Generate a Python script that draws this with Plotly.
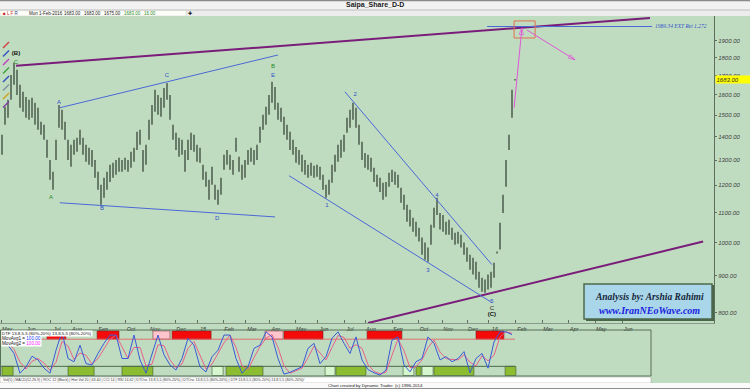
import math
import plotly.graph_objects as go

W, H = 750, 389

# ---------------- data ----------------
# daily bars, x = bar number
high = [1409,1541,1575,1705,1772,1733,1652,1616,1590,1575,
        1585,1560,1536,1469,1455,1387,1301,1253,1387,1550,
        1526,1469,1387,1365,1387,1396,1432,1396,1365,1352,
        1343,1301,1253,1202,1229,1253,1281,1289,1301,1310,
        1301,1310,1301,1335,1352,1423,1432,1343,1365,1478,
        1550,1626,1600,1585,1636,1662,1600,1455,1418,1396,
        1387,1343,1387,1418,1409,1365,1352,1281,1253,1221,
        1273,1202,1183,1229,1322,1343,1322,1301,1396,1314,
        1281,1301,1343,1352,1343,1365,1446,1502,1541,1600,
        1668,1641,1560,1536,1493,1455,1423,1387,1356,1343,
        1322,1301,1281,1289,1277,1281,1273,1241,1202,1221,
        1281,1322,1365,1387,1409,1488,1526,1560,1536,1455,
        1378,1330,1322,1310,1269,1241,1229,1210,1213,1249,
        1261,1253,1241,1191,1164,1128,1110,1082,1068,1048,
        1016,1000,984,1058,1117,1153,1099,1092,1068,1075,
        1048,1032,1035,1025,1000,984,962,953,941,911,
        894,889,903,911,938,972,1065,1164,1301,1409,
        1626,1683]
low = [1322,1455,1488,1575,1652,1600,1536,1516,1488,1478,
       1488,1455,1432,1409,1387,1310,1221,1183,1301,1441,
       1432,1387,1301,1273,1322,1335,1365,1322,1293,1281,
       1273,1229,1183,1128,1153,1183,1213,1229,1241,1253,
       1253,1261,1253,1269,1293,1343,1365,1253,1281,1387,
       1455,1516,1502,1493,1536,1575,1478,1387,1343,1314,
       1322,1253,1301,1343,1335,1293,1289,1221,1194,1146,
       1202,1146,1128,1164,1261,1281,1261,1241,1335,1253,
       1221,1229,1281,1293,1281,1301,1374,1432,1455,1502,
       1560,1526,1478,1469,1409,1387,1343,1322,1289,1281,
       1253,1241,1229,1237,1229,1233,1221,1183,1153,1164,
       1210,1253,1293,1310,1335,1418,1441,1478,1441,1365,
       1301,1269,1261,1253,1213,1194,1175,1146,1157,1194,
       1213,1202,1191,1135,1110,1068,1052,1035,1019,1003,
       962,947,941,993,1048,1092,1042,1035,1025,1025,
       1009,993,996,984,962,941,917,903,889,866,
       855,852,861,866,894,966,978,1099,1194,1343,
       1488,1675]

last_date = "Mon 1-Feb-2016"
last_ohlc = [1683.00, 1683.00, 1675.00, 1683.00]
last_vol = 16.00

month_tick_bars = [-0.3, 7.7, 16.3, 23, 31.7, 41, 49, 57.7, 65, 73.7, 81.3, 89.3, 97.7,
                   105.3, 114, 121, 130, 138.7, 146.7, 155, 162.3, 171.3, 180, 188.7,
                   197.7, 206.7]
month_labels = ["May", "Jun", "Jul", "Aug", "Sep", "Oct", "Nov", "Dec", "15", "Feb", "Mar",
                "Apr", "May", "Jun", "Jul", "Aug", "Sep", "Oct", "Nov", "Dec", "16", "Feb",
                "Mar", "Apr", "May", "Jun"]
price_ticks = [800, 900, 1000, 1100, 1200, 1300, 1400, 1500, 1600, 1700, 1800, 1900]

# DTF oscillator (0-100), one value every 2 bars
osc_bars = list(range(0, 172, 2))
osc_fast = [78,67,49,6,20,43,35,17,6,56,96,38,31,67,27,24,49,71,89,89,
            38,38,89,35,6,46,89,46,24,13,38,82,67,20,9,42,56,89,89,38,
            6,20,60,67,96,85,38,4,8,14,20,60,71,27,42,82,96,71,49,85,
            35,14,7,2,13,78,85,24,9,31,38,85,71,35,42,31,38,53,7,38,
            49,17,74,96,96,90]
osc_slow = [75,72,58,30,15,32,38,28,12,30,75,65,36,50,45,26,38,60,80,89,
            62,38,62,62,22,26,68,66,35,18,26,60,75,45,15,26,48,72,89,62,
            22,14,40,64,82,90,62,22,6,11,17,40,65,50,35,62,88,84,60,68,
            60,25,10,5,8,45,80,55,18,20,35,62,78,52,38,36,35,46,30,22,
            44,33,45,85,96,93]
red_zones = [[15, 21.3], [31.7, 39], [56.7, 69.7], [94, 107], [121.7, 133.3], [158, 167.3]]
pink_zones = [[50.3, 56], [87.7, 93.7]]
green_zones = [[0, 3.7], [22, 30.7], [40, 50.3], [74.7, 87], [111.3, 121.3], [138, 139.7],
               [144, 157.3], [167.7, 171.3]]
lightgreen_zones = [[70, 73.7], [107.7, 111], [133.7, 137.3], [140, 143.7]]

# analyst drawings (bar, price)
purple_upper = [[4.67, 1755], [216, 2044]]
purple_lower = [[122, 774], [233.7, 1003]]
blue_ac = [[19.3, 1536], [92, 1817]]
blue_bd = [[19.3, 1135], [91, 1085]]
wave_lower = [[95.7, 1237], [163.3, 826]]
wave_upper = [[114.3, 1616], [163.3, 932]]
ext_level = 1989.34
ext_span = [161.7, 216.7]
target_box = [170.7, 177.7, 1918, 2025]
arrow_up = [[170.7, 1536], [173.3, 1980]]
arrow_down = [[175, 1967], [191, 1789]]

wave_labels = [
    ("(B)", 4.67, 1823, "#111111", True),
    ("C", 4.67, 1772, "#1f8a1f", False),
    ("A", 16.3, 1153, "#1f8a1f", False),
    ("A", 19.0, 1560, "#3050c8", False),
    ("B", 33.3, 1113, "#3050c8", False),
    ("C", 55.0, 1700, "#3050c8", False),
    ("D", 71.7, 1078, "#3050c8", False),
    ("B", 90.3, 1750, "#1f8a1f", False),
    ("E", 90.3, 1700, "#3050c8", False),
    ("1", 108.3, 1124, "#3050c8", False),
    ("2", 117.7, 1600, "#3050c8", False),
    ("3", 142.0, 914, "#3050c8", False),
    ("4", 145.0, 1161, "#3050c8", False),
    ("5", 163.3, 830, "#3050c8", False),
    ("C", 163.3, 810, "#222222", False),
    ("(C)", 163.3, 795, "#111111", True),
]

# ---------------- figure ----------------
GREEN = "#c0dcc0"
FONT = "Liberation Sans"


def px(x):
    return x / W


def py(y):
    return 1 - y / H


fig = go.Figure()

# price bars
bx, by = [], []
for i, (h, l) in enumerate(zip(high, low)):
    bx += [i, i, None]
    by += [l, h, None]
fig.add_trace(go.Scatter(x=bx, y=by, mode="lines", line=dict(color="#3a473a", width=1.3),
                         hoverinfo="skip", showlegend=False))


def seg(pts, color, width, dash=None):
    fig.add_trace(go.Scatter(x=[p[0] for p in pts], y=[p[1] for p in pts], mode="lines",
                             line=dict(color=color, width=width, dash=dash),
                             hoverinfo="skip", showlegend=False))


seg(purple_upper, "#7a1c7a", 2)
seg(purple_lower, "#7a1c7a", 2)
for ln in (blue_ac, blue_bd, wave_lower, wave_upper):
    seg(ln, "#4a68d6", 1)
seg([[ext_span[0], ext_level], [ext_span[1], ext_level]], "#4a68d6", 1)
x0, x1, y0, y1 = target_box
seg([[x0, y0], [x1, y0], [x1, y1], [x0, y1], [x0, y0]], "#e0704e", 1)

for arr in (arrow_up, arrow_down):
    fig.add_trace(go.Scatter(x=[p[0] for p in arr], y=[p[1] for p in arr], mode="lines+markers",
                             line=dict(color="#e055d8", width=1),
                             marker=dict(symbol="arrow-open", size=[0, 7], angleref="previous",
                                         color="#e055d8", line=dict(color="#e055d8", width=1)),
                             hoverinfo="skip", showlegend=False))

# wave labels
for txt, bx_, bp, col, bold in wave_labels:
    fig.add_trace(go.Scatter(x=[bx_], y=[bp], mode="text",
                             text=[f"<b>{txt}</b>" if bold else txt],
                             textfont=dict(family=FONT, size=6, color=col),
                             hoverinfo="skip", showlegend=False))

# ext level label
fig.add_trace(go.Scatter(x=[ext_span[1] + 1], y=[ext_level], mode="text",
                         text=[f"<i>{ext_level:.2f} EXT Ret 1.272</i>"], textposition="middle right",
                         textfont=dict(family="Liberation Serif", size=5.5, color="#3050c8"),
                         hoverinfo="skip", showlegend=False))

# oscillator
fig.add_trace(go.Scatter(x=osc_bars, y=osc_slow, mode="lines", line=dict(color="#e8608a", width=1),
                         xaxis="x2", yaxis="y2", hoverinfo="skip", showlegend=False))
fig.add_trace(go.Scatter(x=osc_bars, y=osc_fast, mode="lines", line=dict(color="#3a5ad8", width=1),
                         xaxis="x2", yaxis="y2", hoverinfo="skip", showlegend=False))

shapes = []
# top bands
shapes.append(dict(type="rect", xref="paper", yref="paper", x0=0, x1=1, y0=py(10), y1=1,
                   fillcolor="#f2f2f2", line=dict(width=0), layer="below"))
shapes.append(dict(type="line", xref="paper", yref="paper", x0=0, x1=1, y0=py(0.5), y1=py(0.5),
                   line=dict(color="#8a8a8a", width=1.5)))
shapes.append(dict(type="rect", xref="paper", yref="paper", x0=0, x1=1, y0=py(16), y1=py(10),
                   fillcolor="#ececec", line=dict(width=0), layer="below"))
shapes.append(dict(type="line", xref="paper", yref="paper", x0=0, x1=1, y0=py(10), y1=py(10),
                   line=dict(color="#bdbdbd", width=1)))
shapes.append(dict(type="rect", xref="paper", yref="paper", x0=0, x1=px(186), y0=py(16), y1=py(10.5),
                   fillcolor="#fffffa", line=dict(color="#c8c8c8", width=0.5)))
# oscillator zones
for a, b in red_zones:
    shapes.append(dict(type="rect", xref="x2", yref="y2", x0=a, x1=b, y0=80, y1=98,
                       fillcolor="#f50a0a", line=dict(color="#7a2020", width=0.6), layer="below"))
for a, b in pink_zones:
    shapes.append(dict(type="rect", xref="x2", yref="y2", x0=a, x1=b, y0=80, y1=98,
                       fillcolor="#ffc4cc", line=dict(color="#7a4040", width=0.6), layer="below"))
for a, b in green_zones:
    shapes.append(dict(type="rect", xref="x2", yref="y2", x0=a, x1=b, y0=1, y1=21,
                       fillcolor="#8cbc30", line=dict(color="#3c5a2c", width=0.6), layer="below"))
for a, b in lightgreen_zones:
    shapes.append(dict(type="rect", xref="x2", yref="y2", x0=a, x1=b, y0=1, y1=21,
                       fillcolor="#d6f6cf", line=dict(color="#3c5a2c", width=0.6), layer="below"))
shapes.append(dict(type="line", xref="x2", yref="y2", x0=-0.7, x1=len(high) - 1, y0=80, y1=80,
                   line=dict(color="#e07070", width=1), layer="below"))
shapes.append(dict(type="line", xref="x2", yref="y2", x0=-0.7, x1=len(high) - 1, y0=21, y1=21,
                   line=dict(color="#4a6a4a", width=1), layer="below"))
shapes.append(dict(type="rect", xref="paper", yref="paper", x0=px(0.5), x1=px(651), y0=py(376), y1=py(330),
                   line=dict(color="#56705a", width=1)))
# bottom strips
shapes.append(dict(type="rect", xref="paper", yref="paper", x0=0, x1=px(651), y0=py(383), y1=py(377),
                   fillcolor="#ffffff", line=dict(color="#a0a0a0", width=0.5)))
shapes.append(dict(type="rect", xref="paper", yref="paper", x0=0, x1=1, y0=py(388), y1=py(383),
                   fillcolor="#fafafa", line=dict(width=0)))
shapes.append(dict(type="rect", xref="paper", yref="paper", x0=0, x1=1, y0=0, y1=py(388),
                   fillcolor="#8c8c8c", line=dict(width=0)))
# analysis box
shapes.append(dict(type="rect", xref="paper", yref="paper", x0=px(586), x1=px(714), y0=py(321), y1=py(285),
                   fillcolor="#4a6648", line=dict(width=0)))
shapes.append(dict(type="rect", xref="paper", yref="paper", x0=px(584), x1=px(712), y0=py(319), y1=py(284),
                   fillcolor="#a9d6e8", line=dict(color="#4e6a4c", width=1.5)))
# toolbar icons (left)
icon_cols = ["#d04040", "#3050c0", "#c040c0", "#40a040", "#3050c0", "#8090a0", "#d0a020", "#8040a0"]
for k, c in enumerate(icon_cols):
    yy = 45 + k * 8.5
    shapes.append(dict(type="line", xref="paper", yref="paper", x0=px(3), x1=px(9), y0=py(yy + 3),
                       y1=py(yy - 3), line=dict(color=c, width=1.5)))

annotations = []


def ann(x, y, text, size=5, color="#222222", xanchor="left", bg=None, family=FONT, **kw):
    d = dict(xref="paper", yref="paper", x=px(x), y=py(y), text=text, showarrow=False,
             xanchor=xanchor, yanchor="middle", font=dict(family=family, size=size, color=color),
             borderpad=0)
    if bg:
        d["bgcolor"] = bg
    d.update(kw)
    annotations.append(d)


ann(375, 5.2, "<b>Saipa_Share_D-D</b>", size=7, color="#202020", xanchor="center")
ann(2, 13.2, "<span style='color:#d02020'>■ L</span> <span style='color:#d02020'>F</span> "
             "<span style='color:#304080'>R</span>", size=4.5)
ann(28, 13.2, last_date, size=4.5)
info_x = [63, 83, 103, 123]
for k, v in enumerate(last_ohlc):
    ann(info_x[k], 13.2, f"{v:.2f}", size=4.5, color="#1f8a1f" if k == 3 else "#222222")
ann(143, 13.2, f"{last_vol:.2f}", size=4.5, color="#1f8a1f")
ann(190, 13.2, "✚", size=5, color="#111111", xanchor="center")

# last price label
annotations.append(dict(xref="paper", yref="y", x=px(714.5), y=math.log10(last_ohlc[3]),
                        text=f"<i>{last_ohlc[3]:.2f}</i>", showarrow=False, xanchor="left",
                        yanchor="middle", bgcolor="#ffff00", borderpad=0.5, width=35, align="left",
                        font=dict(family=FONT, size=6, color="#303030")))

# oscillator legend
ann(1, 333.5, "DTF 13,8,5,5 (80%-20%) 13,8,5,5 (80%-20%)", size=4.4, color="#111111", bg="#ffffff")
ann(1, 338.6, "MovAvg1 = <span style='color:#2040ff'>100.00</span>", size=4.6, color="#111111", bg="#ffffff")
ann(1, 343.2, "MovAvg2 = <span style='color:#ff20ff'>100.00</span>", size=4.6, color="#111111", bg="#ffffff")

ann(2, 380, "Vol(5) | MACD(12,26,9) | ROC 12 (Black) | Hist Vol 20 | 63.40 | CCI 14 | RSI 14.62 | "
            "DTOsc 13,8,5,5 (80%-20%) | DTOsc 13,8,5,5 (80%-20%) | DTF 13,8,5,5 (80%-20%) 13,8,5,5 (80%-20%)/",
    size=3.6, color="#333333")
ann(375, 385.7, "Chart created by Dynamic Trader  (c) 1996-2014", size=4.4, color="#222222", xanchor="center")

ann(649, 297, "<b><i>Analysis by: Arshia Rahimi</i></b>", size=9.5, color="#16263a", xanchor="center",
    family="Liberation Serif")
ann(649, 310.5, "<b><i>www.IranNEoWave.com</i></b>", size=10, color="#1a22e0", xanchor="center",
    family="Liberation Serif")

fig.update_layout(
    width=W, height=H, margin=dict(l=0, r=0, t=0, b=0),
    paper_bgcolor=GREEN, plot_bgcolor=GREEN, showlegend=False, hovermode=False,
    shapes=shapes, annotations=annotations,
    xaxis=dict(domain=[0, 714 / W], range=[-2 / 3, 712 / 3], showgrid=False, zeroline=False,
               tickmode="array", tickvals=month_tick_bars, ticktext=month_labels,
               ticks="inside", ticklen=3, tickcolor="#607060", showline=True, linecolor="#8a9a8a",
               linewidth=1, ticklabelshift=6,
               tickfont=dict(family=FONT, size=5.5, color="#303030", style="italic")),
    yaxis=dict(domain=[1 - 323 / H, 1 - 16 / H], type="log",
               range=[math.log10(774), math.log10(2057)], side="right", showgrid=False,
               zeroline=False, tickmode="array", tickvals=price_ticks,
               ticktext=[f"{v:.2f}" for v in price_ticks], ticks="outside", ticklen=2,
               tickcolor="#607060", showline=True, linecolor="#5e6e5e", linewidth=1,
               tickfont=dict(family=FONT, size=6, color="#404040", style="italic")),
    xaxis2=dict(domain=[0, 651 / W], range=[-2 / 3, 649 / 3], anchor="y2", showgrid=False,
                zeroline=False, showticklabels=False, ticks=""),
    yaxis2=dict(domain=[1 - 376 / H, 1 - 330 / H], range=[0, 100], anchor="x2", showgrid=False,
                zeroline=False, showticklabels=False, ticks=""),
)

fig.write_html("out.html")
